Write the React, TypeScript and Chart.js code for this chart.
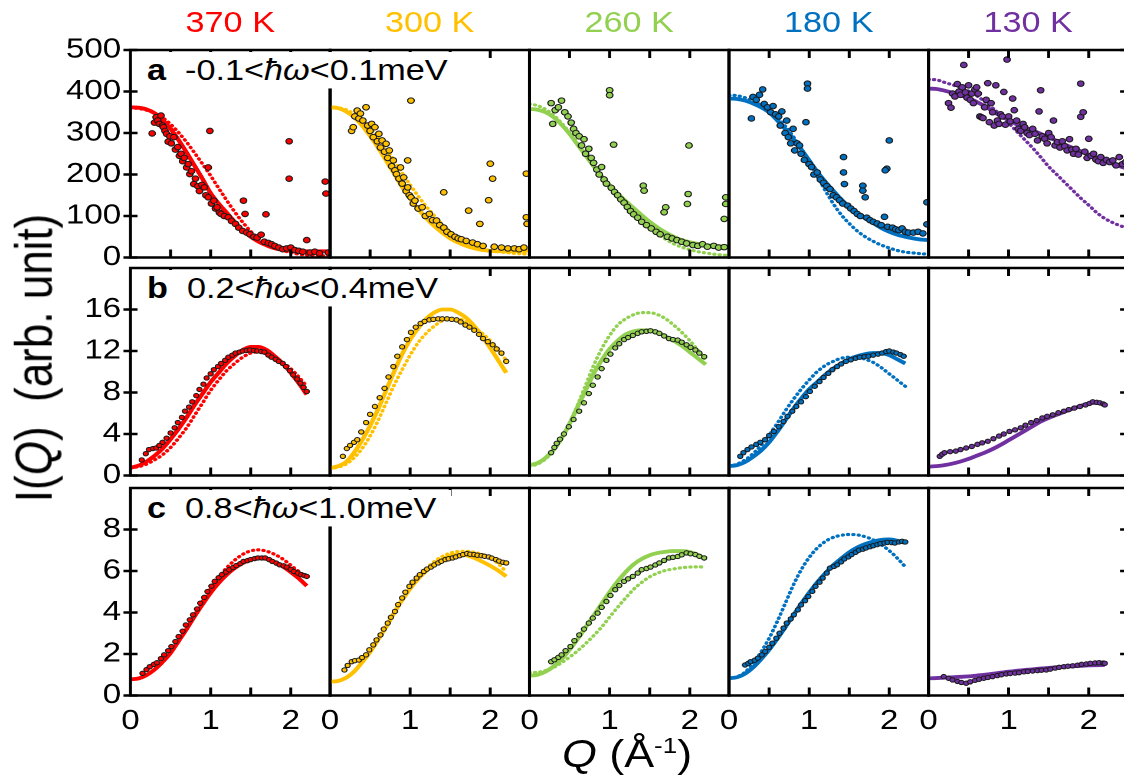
import React, { useEffect, useRef } from 'react';
import { Chart, registerables } from 'chart.js';

Chart.register(...registerables);

// ---------------- data ----------------
const TEMPS = ['370 K', '300 K', '260 K', '180 K', '130 K'];
const COLORS = ['#FF0000', '#FFC000', '#92D050', '#0070C0', '#7030A0'];
const ROW_LETTERS = ['a', 'b', 'c'];
const ROW_LOW = ['-0.1', '0.2', '0.8'];
const ROW_HIGH = ['0.1', '0.4', '1.0'];
const Y_MAX = [500, 20, 10];
const Y_STEP = [100, 4, 2];
const Y_LABEL_MAX = [500, 16, 8];
const Y_TICKS = [[0, 100, 200, 300, 400, 500], [0, 4, 8, 12, 16], [0, 2, 4, 6, 8]];
const Q_MAX = 2.49;
const Q_TICKS = [0.5, 1, 1.5, 2];
const Q_LABEL_TICKS = [0, 0.5, 1, 1.5, 2];
const Q_LABELS = [0, 1, 2];

const Q_A = [0, 0.1, 0.2, 0.3, 0.4, 0.5, 0.6, 0.7, 0.8, 0.9, 1.0, 1.1, 1.2, 1.3, 1.4, 1.5, 1.6, 1.7, 1.8, 1.9, 2.0, 2.1, 2.2, 2.3, 2.4, 2.5];
const Q_BC = [0, 0.1, 0.2, 0.3, 0.4, 0.5, 0.6, 0.7, 0.8, 0.9, 1.0, 1.1, 1.2, 1.3, 1.4, 1.5, 1.6, 1.7, 1.8, 1.9, 2.0, 2.1, 2.2];

// row a : -0.1 < hw < 0.1 meV
const A370_SOLID = [362, 361, 357, 348, 332, 310, 283, 253, 221, 189, 155, 130, 108, 86, 65, 50, 38, 29, 22, 18, 16, 15, 15, 15, 15, 15];
const A370_DOT = [360, 359, 355, 348, 337, 321, 301, 278, 252, 225, 197, 167, 138, 110, 85, 63, 46, 33, 24, 17, 12, 8, 6, 5, 4, 4];
const A300_SOLID = [362, 360, 352, 338, 318, 293, 265, 234, 202, 170, 142, 117, 95, 76, 60, 46, 36, 28, 22, 18, 16, 15, 15, 15, 16, 17];
const A300_DOT = [362, 361, 356, 346, 331, 311, 288, 262, 234, 204, 175, 148, 123, 101, 80, 62, 48, 37, 28, 21, 17, 14, 12, 10, 9, 8];
const A260_SOLID = [358, 356, 350, 338, 320, 298, 272, 246, 220, 196, 174, 154, 136, 119, 102, 86, 72, 60, 50, 42, 37, 33, 30, 28, 27, 27];
const A260_DOT = [370, 366, 357, 343, 324, 301, 275, 248, 221, 195, 170, 148, 127, 107, 89, 72, 57, 44, 33, 25, 19, 14, 11, 8, 6, 5];
const A180_SOLID = [383, 382, 378, 371, 362, 350, 331, 310, 286, 261, 234, 207, 183, 161, 140, 122, 107, 94, 83, 71, 62, 55, 50, 46, 43, 42];
const A180_DOT = [391, 390, 385, 377, 367, 355, 338, 317, 292, 262, 230, 196, 162, 130, 103, 82, 64, 50, 39, 30, 23, 17, 13, 11, 9, 8];
const A130_SOLID = [407, 406, 402, 397, 391, 384, 375, 365, 353, 341, 331, 321, 313, 306, 298, 290, 281, 272, 264, 256, 248, 240, 233, 226, 219, 213];
const A130_DOT = [429, 428, 422, 416, 410, 401, 390, 376, 360, 343, 324, 304, 284, 264, 242, 219, 200, 181, 162, 143, 126, 108, 94, 84, 76, 70];

const A370_PTS: [number, number][] = [[0.27, 299], [0.30, 325], [0.32, 338], [0.34, 330], [0.36, 322], [0.38, 342], [0.40, 318], [0.41, 314], [0.43, 305], [0.45, 298], [0.47, 279], [0.49, 292], [0.51, 275], [0.54, 290], [0.56, 260], [0.59, 266], [0.61, 245], [0.63, 250], [0.65, 232], [0.67, 240], [0.70, 217], [0.72, 225], [0.74, 201], [0.76, 208], [0.79, 177], [0.81, 190], [0.84, 172], [0.86, 160], [0.89, 175], [0.92, 169], [0.94, 150], [0.97, 145], [0.97, 217], [0.99, 305], [1.01, 130], [1.04, 137], [1.06, 118], [1.08, 121], [1.11, 108], [1.13, 105], [1.17, 100], [1.22, 97], [1.26, 88], [1.31, 81], [1.35, 72], [1.40, 64], [1.41, 137], [1.43, 105], [1.45, 60], [1.49, 56], [1.54, 50], [1.58, 48], [1.63, 55], [1.67, 38], [1.69, 104], [1.72, 35], [1.76, 32], [1.80, 28], [1.85, 24], [1.90, 20], [1.95, 22], [1.98, 280], [1.98, 190], [2.00, 24], [2.05, 18], [2.10, 16], [2.15, 14], [2.20, 42], [2.24, 12], [2.30, 14], [2.36, 10], [2.43, 183], [2.44, 154], [2.47, 12]];
const A300_PTS: [number, number][] = [[0.27, 305], [0.29, 314], [0.31, 340], [0.34, 354], [0.36, 335], [0.38, 347], [0.41, 330], [0.45, 362], [0.47, 318], [0.50, 305], [0.52, 322], [0.54, 290], [0.56, 314], [0.59, 280], [0.61, 298], [0.63, 265], [0.65, 282], [0.68, 255], [0.70, 274], [0.72, 240], [0.74, 258], [0.77, 220], [0.79, 234], [0.81, 210], [0.83, 201], [0.86, 190], [0.88, 217], [0.90, 178], [0.92, 193], [0.95, 160], [0.97, 169], [0.97, 234], [0.99, 150], [1.01, 145], [1.01, 378], [1.04, 130], [1.06, 137], [1.10, 118], [1.15, 121], [1.19, 100], [1.24, 105], [1.28, 90], [1.33, 89], [1.37, 78], [1.42, 72], [1.42, 157], [1.46, 62], [1.51, 56], [1.56, 50], [1.60, 46], [1.64, 44], [1.70, 40], [1.73, 113], [1.78, 36], [1.84, 32], [1.87, 81], [1.91, 28], [1.98, 138], [2.00, 226], [2.03, 190], [2.05, 26], [2.14, 24], [2.22, 22], [2.30, 22], [2.36, 20], [2.42, 24], [2.45, 202], [2.45, 97], [2.46, 81]];
const A260_PTS: [number, number][] = [[0.27, 372], [0.29, 322], [0.32, 355], [0.36, 362], [0.40, 378], [0.44, 350], [0.48, 340], [0.52, 325], [0.55, 310], [0.58, 300], [0.62, 292], [0.65, 270], [0.68, 285], [0.70, 250], [0.74, 262], [0.77, 240], [0.80, 228], [0.84, 212], [0.87, 200], [0.90, 218], [0.93, 188], [0.96, 178], [1.00, 403], [1.00, 391], [1.02, 168], [1.05, 272], [1.06, 158], [1.10, 150], [1.14, 140], [1.18, 132], [1.22, 122], [1.26, 112], [1.30, 104], [1.35, 96], [1.40, 86], [1.42, 173], [1.43, 161], [1.46, 78], [1.52, 70], [1.58, 62], [1.63, 56], [1.70, 121], [1.68, 109], [1.72, 50], [1.78, 46], [1.84, 42], [1.90, 38], [1.96, 34], [1.99, 270], [1.98, 153], [1.97, 129], [2.04, 30], [2.10, 28], [2.16, 32], [2.22, 26], [2.30, 28], [2.36, 24], [2.45, 145], [2.45, 129], [2.43, 93], [2.43, 25]];
const A180_PTS: [number, number][] = [[0.28, 335], [0.30, 387], [0.34, 380], [0.38, 392], [0.42, 405], [0.44, 370], [0.48, 362], [0.52, 350], [0.55, 365], [0.58, 345], [0.62, 340], [0.64, 318], [0.66, 352], [0.70, 300], [0.72, 330], [0.74, 290], [0.77, 275], [0.80, 310], [0.82, 258], [0.85, 275], [0.88, 270], [0.90, 250], [0.94, 235], [0.96, 326], [0.98, 419], [0.98, 407], [1.00, 225], [1.03, 218], [1.06, 200], [1.10, 205], [1.14, 188], [1.18, 180], [1.22, 172], [1.26, 165], [1.30, 150], [1.34, 145], [1.38, 138], [1.42, 130], [1.43, 242], [1.43, 205], [1.44, 177], [1.48, 125], [1.52, 118], [1.56, 112], [1.60, 105], [1.64, 100], [1.67, 173], [1.67, 161], [1.70, 145], [1.72, 96], [1.76, 90], [1.80, 86], [1.85, 82], [1.90, 78], [1.94, 98], [1.98, 74], [2.00, 282], [1.97, 214], [1.95, 210], [2.04, 72], [2.08, 68], [2.12, 66], [2.16, 70], [2.20, 62], [2.24, 60], [2.30, 60], [2.36, 62], [2.42, 58], [2.47, 133], [2.47, 80]];
const A130_PTS: [number, number][] = [[0.25, 372], [0.28, 361], [0.30, 395], [0.33, 388], [0.36, 418], [0.38, 400], [0.40, 392], [0.42, 410], [0.44, 464], [0.46, 398], [0.48, 385], [0.50, 415], [0.52, 380], [0.54, 395], [0.56, 372], [0.58, 405], [0.60, 410], [0.62, 395], [0.64, 340], [0.66, 338], [0.68, 336], [0.70, 362], [0.72, 380], [0.74, 420], [0.76, 326], [0.78, 372], [0.80, 350], [0.82, 318], [0.84, 415], [0.86, 330], [0.88, 322], [0.90, 345], [0.92, 340], [0.94, 399], [0.96, 320], [0.98, 477], [1.00, 340], [1.02, 328], [1.05, 383], [1.07, 355], [1.10, 330], [1.12, 310], [1.15, 305], [1.18, 322], [1.20, 314], [1.23, 300], [1.26, 295], [1.30, 310], [1.33, 298], [1.36, 282], [1.38, 352], [1.40, 403], [1.42, 292], [1.45, 286], [1.48, 275], [1.50, 300], [1.53, 290], [1.56, 330], [1.58, 270], [1.61, 278], [1.64, 265], [1.67, 280], [1.70, 268], [1.73, 258], [1.76, 285], [1.79, 260], [1.81, 250], [1.84, 262], [1.87, 248], [1.90, 419], [1.90, 339], [1.93, 350], [1.95, 255], [1.98, 240], [2.00, 286], [2.03, 245], [2.06, 250], [2.09, 236], [2.12, 232], [2.15, 242], [2.18, 228], [2.22, 235], [2.26, 230], [2.30, 234], [2.34, 222], [2.38, 242], [2.42, 225], [2.46, 230]];

// row b : 0.2 < hw < 0.4 meV
const B370_SOLID = [0.75, 0.95, 1.35, 1.9, 2.6, 3.5, 4.5, 5.6, 6.8, 7.9, 9.0, 9.9, 10.8, 11.5, 12.1, 12.4, 12.4, 12.1, 11.5, 10.8, 9.9, 8.9, 7.8];
const B370_DOT = [0.75, 0.85, 1.1, 1.5, 2.0, 2.7, 3.6, 4.6, 5.8, 7.0, 8.2, 9.2, 10.1, 10.8, 11.4, 11.8, 11.9, 11.7, 11.4, 10.9, 10.3, 9.5, 8.6];
const B300_SOLID = [0.7, 0.9, 1.3, 2.2, 3.4, 4.8, 6.4, 8.2, 10.0, 11.7, 13.1, 14.2, 15.1, 15.7, 16.0, 16.0, 15.7, 15.2, 14.4, 13.4, 12.3, 11.1, 9.9];
const B300_DOT = [0.7, 0.8, 1.1, 1.7, 2.6, 3.8, 5.3, 7.0, 8.7, 10.2, 11.6, 12.8, 13.7, 14.4, 14.9, 15.1, 15.1, 14.8, 14.3, 13.7, 13.0, 12.1, 11.1];
const B260_SOLID = [1.0, 1.2, 1.7, 2.5, 3.6, 5.0, 6.6, 8.2, 9.8, 11.1, 12.2, 13.0, 13.6, 13.9, 14.0, 14.0, 13.8, 13.4, 13.0, 12.5, 11.9, 11.3, 10.7];
const B260_DOT = [0.9, 1.1, 1.6, 2.4, 3.5, 5.0, 6.8, 8.7, 10.6, 12.2, 13.5, 14.5, 15.1, 15.5, 15.7, 15.7, 15.5, 15.1, 14.5, 13.8, 13.0, 12.1, 11.1];
const B180_SOLID = [0.9, 1.0, 1.3, 1.8, 2.4, 3.2, 4.2, 5.3, 6.4, 7.4, 8.3, 9.0, 9.7, 10.3, 10.8, 11.2, 11.5, 11.7, 11.8, 11.8, 11.6, 11.2, 10.8];
const B180_DOT = [0.9, 1.1, 1.5, 2.1, 2.9, 3.9, 5.0, 6.2, 7.3, 8.3, 9.2, 10.0, 10.6, 11.0, 11.3, 11.4, 11.4, 11.2, 10.9, 10.4, 9.8, 9.2, 8.6];
const B130_SOLID = [0.85, 0.9, 1.0, 1.15, 1.35, 1.6, 1.9, 2.2, 2.55, 2.95, 3.4, 3.85, 4.3, 4.75, 5.2, 5.55, 5.85, 6.15, 6.45, 6.7, 6.95, 7.0, 6.9];

const B370_PTS: [number, number][] = [[0.14, 1.5], [0.19, 2.1], [0.23, 2.5], [0.28, 2.6], [0.32, 2.65], [0.36, 2.9], [0.40, 3.2], [0.45, 3.6], [0.50, 4.1], [0.55, 4.6], [0.59, 5.1], [0.64, 5.6], [0.68, 6.2], [0.73, 6.6], [0.77, 7.1], [0.82, 7.7], [0.86, 8.3], [0.91, 8.8], [0.95, 9.4], [1.00, 9.8], [1.04, 10.2], [1.09, 10.5], [1.13, 10.8], [1.18, 11.1], [1.22, 11.4], [1.27, 11.6], [1.31, 11.8], [1.36, 11.9], [1.40, 12.0], [1.45, 12.05], [1.49, 12.1], [1.54, 12.05], [1.58, 12.0], [1.63, 11.95], [1.67, 11.9], [1.72, 11.6], [1.76, 11.4], [1.81, 11.2], [1.85, 11.0], [1.90, 10.8], [1.94, 10.5], [1.99, 10.1], [2.03, 9.7], [2.08, 9.3], [2.12, 8.9], [2.16, 8.5], [2.20, 8.1]];
const B300_PTS: [number, number][] = [[0.16, 1.85], [0.21, 2.6], [0.25, 2.9], [0.30, 3.2], [0.34, 3.45], [0.39, 4.2], [0.45, 5.1], [0.50, 5.9], [0.56, 6.65], [0.62, 7.5], [0.68, 8.4], [0.73, 9.5], [0.79, 10.5], [0.84, 11.5], [0.90, 12.4], [0.96, 13.1], [1.01, 13.8], [1.07, 14.3], [1.13, 14.65], [1.18, 14.85], [1.24, 15.0], [1.29, 15.05], [1.35, 15.1], [1.40, 15.1], [1.46, 15.1], [1.52, 15.05], [1.58, 15.0], [1.63, 14.8], [1.69, 14.5], [1.74, 14.3], [1.80, 14.0], [1.86, 13.6], [1.91, 13.2], [1.97, 12.9], [2.03, 12.6], [2.08, 12.2], [2.14, 11.8], [2.20, 11.0]];
const B260_PTS: [number, number][] = [[0.27, 2.2], [0.31, 2.7], [0.34, 3.1], [0.38, 3.5], [0.43, 4.0], [0.49, 4.7], [0.55, 5.4], [0.62, 6.2], [0.68, 7.0], [0.74, 7.9], [0.79, 8.7], [0.85, 9.5], [0.90, 10.3], [0.96, 11.1], [1.01, 11.7], [1.07, 12.3], [1.12, 12.7], [1.18, 13.1], [1.23, 13.3], [1.29, 13.5], [1.35, 13.7], [1.40, 13.85], [1.46, 13.9], [1.51, 13.95], [1.57, 13.85], [1.62, 13.7], [1.68, 13.45], [1.74, 13.2], [1.79, 13.1], [1.85, 13.05], [1.90, 12.85], [1.96, 12.6], [2.01, 12.35], [2.07, 12.1], [2.12, 11.8], [2.18, 11.45]];
const B180_PTS: [number, number][] = [[0.14, 1.85], [0.18, 2.2], [0.23, 2.5], [0.28, 2.75], [0.34, 3.0], [0.39, 3.2], [0.45, 3.45], [0.50, 3.85], [0.56, 4.25], [0.62, 4.7], [0.68, 5.2], [0.73, 5.7], [0.79, 6.2], [0.84, 6.65], [0.90, 7.1], [0.96, 7.6], [1.01, 8.1], [1.07, 8.6], [1.13, 9.05], [1.18, 9.45], [1.24, 9.85], [1.29, 10.2], [1.35, 10.5], [1.40, 10.75], [1.46, 11.0], [1.52, 11.15], [1.58, 11.3], [1.63, 11.4], [1.69, 11.45], [1.74, 11.5], [1.80, 11.6], [1.86, 11.7], [1.91, 11.8], [1.96, 11.95], [2.00, 12.0], [2.05, 11.9], [2.09, 11.8], [2.14, 11.65], [2.18, 11.5]];
const B130_PTS: [number, number][] = [[0.14, 1.85], [0.17, 2.05], [0.20, 2.2], [0.27, 2.3], [0.34, 2.35], [0.40, 2.5], [0.47, 2.65], [0.54, 2.8], [0.61, 3.0], [0.67, 3.15], [0.74, 3.3], [0.81, 3.55], [0.88, 3.8], [0.94, 4.0], [1.01, 4.25], [1.08, 4.4], [1.15, 4.6], [1.21, 4.85], [1.28, 5.1], [1.35, 5.3], [1.42, 5.55], [1.48, 5.7], [1.55, 5.85], [1.62, 6.05], [1.69, 6.2], [1.75, 6.35], [1.82, 6.5], [1.89, 6.65], [1.96, 6.8], [2.01, 6.95], [2.05, 7.1], [2.10, 7.05], [2.14, 7.0], [2.18, 6.9], [2.20, 6.8]];

// row c : 0.8 < hw < 1.0 meV
const C370_SOLID = [0.78, 0.82, 0.98, 1.25, 1.62, 2.05, 2.62, 3.2, 3.82, 4.4, 4.95, 5.42, 5.82, 6.14, 6.38, 6.55, 6.62, 6.58, 6.43, 6.22, 5.95, 5.64, 5.28];
const C370_DOT = [0.78, 0.82, 0.98, 1.25, 1.6, 2.05, 2.6, 3.22, 3.88, 4.55, 5.15, 5.7, 6.15, 6.52, 6.8, 6.97, 7.02, 6.95, 6.8, 6.58, 6.28, 5.98, 5.72];
const C300_SOLID = [0.67, 0.7, 0.85, 1.15, 1.6, 2.1, 2.7, 3.3, 3.98, 4.6, 5.15, 5.62, 6.0, 6.32, 6.55, 6.72, 6.79, 6.76, 6.63, 6.45, 6.25, 6.02, 5.74];
const C300_DOT = [0.67, 0.7, 0.85, 1.15, 1.58, 2.08, 2.66, 3.28, 3.95, 4.6, 5.2, 5.72, 6.12, 6.45, 6.7, 6.86, 6.94, 6.95, 6.9, 6.8, 6.65, 6.35, 5.95];
const C260_SOLID = [0.95, 1.0, 1.15, 1.4, 1.75, 2.2, 2.72, 3.28, 3.85, 4.42, 4.98, 5.5, 5.95, 6.32, 6.58, 6.76, 6.87, 6.93, 6.96, 6.96, 6.92, 6.78, 6.55];
const C260_DOT = [1.1, 1.12, 1.2, 1.35, 1.58, 1.85, 2.15, 2.5, 2.88, 3.3, 3.78, 4.25, 4.7, 5.12, 5.45, 5.72, 5.9, 6.03, 6.1, 6.16, 6.19, 6.2, 6.19];
const C180_SOLID = [0.83, 0.88, 1.05, 1.35, 1.75, 2.2, 2.72, 3.28, 3.85, 4.42, 4.95, 5.45, 5.88, 6.28, 6.6, 6.9, 7.13, 7.3, 7.42, 7.5, 7.52, 7.46, 7.35];
const C180_DOT = [0.83, 0.9, 1.12, 1.55, 2.1, 2.75, 3.55, 4.42, 5.3, 6.05, 6.65, 7.1, 7.42, 7.62, 7.72, 7.76, 7.74, 7.65, 7.5, 7.27, 6.98, 6.62, 6.2];
const C130_SOLID = [0.83, 0.84, 0.86, 0.88, 0.9, 0.92, 0.96, 1.0, 1.05, 1.1, 1.15, 1.19, 1.23, 1.26, 1.3, 1.33, 1.36, 1.39, 1.41, 1.43, 1.45, 1.46, 1.47];

const C370_PTS: [number, number][] = [[0.15, 1.07], [0.20, 1.25], [0.24, 1.39], [0.29, 1.5], [0.33, 1.58], [0.38, 1.78], [0.42, 1.96], [0.47, 2.16], [0.51, 2.36], [0.56, 2.6], [0.60, 2.84], [0.65, 3.1], [0.69, 3.4], [0.74, 3.65], [0.78, 3.89], [0.83, 4.17], [0.87, 4.45], [0.92, 4.73], [0.96, 5.01], [1.01, 5.27], [1.05, 5.5], [1.10, 5.68], [1.14, 5.82], [1.19, 5.95], [1.23, 6.06], [1.28, 6.17], [1.32, 6.26], [1.37, 6.36], [1.41, 6.46], [1.46, 6.5], [1.50, 6.55], [1.55, 6.6], [1.59, 6.63], [1.64, 6.63], [1.68, 6.63], [1.73, 6.55], [1.77, 6.46], [1.82, 6.38], [1.86, 6.3], [1.91, 6.25], [1.95, 6.19], [2.00, 6.08], [2.04, 5.98], [2.09, 5.9], [2.13, 5.82], [2.17, 5.78], [2.20, 5.74]];
const C300_PTS: [number, number][] = [[0.18, 1.23], [0.22, 1.45], [0.27, 1.63], [0.31, 1.68], [0.36, 1.71], [0.40, 1.83], [0.45, 1.96], [0.49, 2.2], [0.54, 2.44], [0.58, 2.68], [0.63, 2.92], [0.67, 3.2], [0.72, 3.49], [0.76, 3.77], [0.81, 4.05], [0.85, 4.38], [0.90, 4.7], [0.94, 4.98], [0.99, 5.26], [1.03, 5.46], [1.08, 5.66], [1.12, 5.82], [1.17, 5.98], [1.21, 6.09], [1.26, 6.19], [1.30, 6.29], [1.35, 6.39], [1.39, 6.47], [1.44, 6.55], [1.48, 6.59], [1.53, 6.63], [1.57, 6.68], [1.62, 6.74], [1.66, 6.79], [1.71, 6.84], [1.75, 6.81], [1.80, 6.79], [1.84, 6.76], [1.89, 6.74], [1.93, 6.71], [1.98, 6.68], [2.02, 6.62], [2.07, 6.55], [2.11, 6.48], [2.16, 6.42], [2.20, 6.39]];
const C260_PTS: [number, number][] = [[0.27, 1.63], [0.31, 1.72], [0.36, 1.84], [0.40, 1.96], [0.45, 2.16], [0.51, 2.36], [0.56, 2.64], [0.62, 2.92], [0.68, 3.2], [0.74, 3.49], [0.79, 3.73], [0.85, 3.97], [0.90, 4.25], [0.96, 4.53], [1.01, 4.82], [1.07, 5.1], [1.12, 5.3], [1.18, 5.5], [1.23, 5.62], [1.29, 5.74], [1.35, 5.9], [1.40, 6.06], [1.46, 6.12], [1.51, 6.19], [1.57, 6.29], [1.62, 6.39], [1.68, 6.51], [1.74, 6.63], [1.79, 6.66], [1.85, 6.7], [1.90, 6.78], [1.96, 6.87], [2.01, 6.83], [2.07, 6.79], [2.12, 6.71], [2.18, 6.63]];
const C180_PTS: [number, number][] = [[0.20, 1.47], [0.24, 1.55], [0.27, 1.63], [0.32, 1.7], [0.36, 1.8], [0.41, 1.96], [0.45, 2.12], [0.50, 2.32], [0.54, 2.52], [0.59, 2.76], [0.63, 3.0], [0.68, 3.25], [0.72, 3.49], [0.77, 3.69], [0.81, 3.89], [0.86, 4.13], [0.90, 4.37], [0.95, 4.57], [0.99, 4.77], [1.04, 5.02], [1.08, 5.26], [1.13, 5.46], [1.17, 5.66], [1.22, 5.9], [1.26, 6.14], [1.31, 6.22], [1.35, 6.3], [1.40, 6.44], [1.44, 6.58], [1.49, 6.68], [1.53, 6.79], [1.58, 6.9], [1.62, 7.0], [1.67, 7.05], [1.71, 7.11], [1.76, 7.17], [1.80, 7.22], [1.85, 7.27], [1.89, 7.32], [1.94, 7.35], [1.98, 7.38], [2.03, 7.37], [2.07, 7.35], [2.12, 7.4], [2.16, 7.43], [2.20, 7.4]];
const C130_PTS: [number, number][] = [[0.19, 0.91], [0.25, 0.83], [0.30, 0.75], [0.36, 0.68], [0.41, 0.63], [0.47, 0.59], [0.52, 0.66], [0.58, 0.73], [0.63, 0.78], [0.69, 0.83], [0.74, 0.87], [0.80, 0.91], [0.86, 0.96], [0.91, 1.0], [0.97, 1.04], [1.02, 1.06], [1.08, 1.08], [1.13, 1.1], [1.19, 1.14], [1.24, 1.16], [1.30, 1.18], [1.36, 1.2], [1.41, 1.22], [1.47, 1.23], [1.52, 1.27], [1.58, 1.32], [1.63, 1.36], [1.69, 1.39], [1.74, 1.41], [1.80, 1.43], [1.86, 1.46], [1.91, 1.5], [1.97, 1.52], [2.02, 1.55], [2.08, 1.57], [2.13, 1.58], [2.18, 1.56], [2.20, 1.55]];

const SOLID = [
  [A370_SOLID, A300_SOLID, A260_SOLID, A180_SOLID, A130_SOLID],
  [B370_SOLID, B300_SOLID, B260_SOLID, B180_SOLID, B130_SOLID],
  [C370_SOLID, C300_SOLID, C260_SOLID, C180_SOLID, C130_SOLID],
];
const DOTTED: (number[] | null)[][] = [
  [A370_DOT, A300_DOT, A260_DOT, A180_DOT, A130_DOT],
  [B370_DOT, B300_DOT, B260_DOT, B180_DOT, null],
  [C370_DOT, C300_DOT, C260_DOT, C180_DOT, null],
];
const POINTS = [
  [A370_PTS, A300_PTS, A260_PTS, A180_PTS, A130_PTS],
  [B370_PTS, B300_PTS, B260_PTS, B180_PTS, B130_PTS],
  [C370_PTS, C300_PTS, C260_PTS, C180_PTS, C130_PTS],
];

// ---------------- layout ----------------
const SX = 1.18; // the reference figure is stretched horizontally
const FONT = "'Liberation Sans', Arial, Helvetica, sans-serif";
const COL_LEFT = [130.5, 330, 529.5, 729, 928.5];
const COL_W = 199.5;
const ROW_TOP = [50, 268, 488];
const ROW_H = 207.5;
const PAD = 22;
const Y_AXIS_W = 64;
const X_AXIS_H = 46;

Chart.defaults.font.family = FONT;

function panelBox(r: number, c: number) {
  const plotL = COL_LEFT[c] / SX;
  const plotW = COL_W / SX;
  const axisW = c === 0 ? Y_AXIS_W : 0;
  const axisH = r === 2 ? X_AXIS_H : 0;
  const left = Math.floor(plotL - axisW - PAD);
  const padL = plotL - axisW - left;
  const width = Math.ceil(padL + axisW + plotW + PAD);
  const padR = width - padL - axisW - plotW;
  const top = ROW_TOP[r] - PAD;
  const height = Math.ceil(PAD + ROW_H + axisH + PAD);
  const padB = height - PAD - ROW_H - axisH;
  return { left, top, width, height, padL, padR, padB, axisW, axisH };
}

const framePlugin = {
  id: 'frame',
  afterDraw(chart: any, _args: any, opts: any) {
    const { ctx, chartArea: a, scales } = chart;
    const xs = scales.x;
    const ys = scales.y;
    ctx.save();
    ctx.strokeStyle = '#000';
    ctx.lineWidth = 2.5;
    ctx.lineCap = 'butt';
    ctx.strokeRect(a.left, a.top, a.right - a.left, a.bottom - a.top);
    ctx.beginPath();
    const tv = 8;
    for (const q of Q_TICKS) {
      const px = xs.getPixelForValue(q);
      ctx.moveTo(px, a.bottom);
      ctx.lineTo(px, a.bottom - tv);
      ctx.moveTo(px, a.top);
      ctx.lineTo(px, a.top + tv);
    }
    const th = 7 / SX;
    for (const v of opts.yTicks as number[]) {
      const py = ys.getPixelForValue(v);
      if (opts.left) {
        ctx.moveTo(a.left - th, py);
        ctx.lineTo(a.left + th, py);
      }
      if (opts.right) {
        ctx.moveTo(a.right - 8 / SX, py);
        ctx.lineTo(a.right, py);
      }
    }
    ctx.stroke();
    ctx.restore();
  },
};

function Panel({ r, c }: { r: number; c: number }) {
  const ref = useRef<HTMLCanvasElement>(null);
  const g = panelBox(r, c);
  useEffect(() => {
    const color = COLORS[c];
    const qs = r === 0 ? Q_A : Q_BC;
    const toXY = (vals: number[]) => vals.map((v, i) => ({ x: qs[i], y: v }));
    const datasets: any[] = [];
    const dotted = DOTTED[r][c];
    if (dotted) {
      datasets.push({
        type: 'line', data: toXY(dotted), borderColor: color, borderWidth: 3.2,
        borderDash: [0.5, 4], borderCapStyle: 'round', pointRadius: 0,
        cubicInterpolationMode: 'monotone', order: 3,
      });
    }
    datasets.push({
      type: 'line', data: toXY(SOLID[r][c]), borderColor: color, borderWidth: 3.8,
      pointRadius: 0, cubicInterpolationMode: 'monotone', order: 2,
    });
    datasets.push({
      type: 'scatter', data: POINTS[r][c].map(([x, y]) => ({ x, y })),
      backgroundColor: color, borderColor: '#1a1a1a', borderWidth: 1,
      pointRadius: r === 0 ? 2.8 : 2.2, order: 1,
    });
    const chart = new Chart(ref.current as HTMLCanvasElement, {
      type: 'scatter',
      data: { datasets },
      options: {
        animation: false,
        responsive: false,
        devicePixelRatio: 2,
        events: [],
        layout: { autoPadding: false, padding: { left: g.padL, right: g.padR, top: PAD, bottom: g.padB } },
        plugins: {
          legend: { display: false },
          tooltip: { enabled: false },
          frame: { yTicks: Y_TICKS[r], left: c === 0, right: c === 4 },
        } as any,
        scales: {
          x: {
            type: 'linear', min: 0, max: Q_MAX, display: r === 2,
            grid: { display: false, drawTicks: false },
            border: { display: false },
            ticks: {
              autoSkip: false, maxRotation: 0, padding: 9, color: '#000',
              font: { size: 28, family: FONT },
              callback: (v: any) => (Q_LABELS.includes(Number(v)) ? String(v) : ''),
            },
            afterBuildTicks: (s: any) => { s.ticks = Q_LABEL_TICKS.map((v) => ({ value: v })); },
            afterFit: (s: any) => { if (r === 2) s.height = g.axisH; },
          },
          y: {
            type: 'linear', min: 0, max: Y_MAX[r], display: c === 0,
            grid: { display: false, drawTicks: true, tickLength: 6 },
            border: { display: false },
            ticks: { stepSize: Y_STEP[r], padding: 2, color: '#000', font: { size: 28, family: FONT } },
            afterBuildTicks: (s: any) => { s.ticks = s.ticks.filter((t: any) => t.value <= Y_LABEL_MAX[r] + 1e-9); },
            afterFit: (s: any) => { if (c === 0) s.width = g.axisW; },
          },
        },
      } as any,
      plugins: [framePlugin],
    });
    return () => chart.destroy();
  }, [r, c]);
  return (
    <canvas
      ref={ref}
      width={g.width}
      height={g.height}
      style={{ position: 'absolute', left: g.left, top: g.top }}
    />
  );
}

export default function App() {
  useEffect(() => {
    document.documentElement.style.overflow = 'hidden';
    document.body.style.overflow = 'hidden';
  }, []);
  const panels: React.ReactNode[] = [];
  for (let r = 0; r < 3; r++) for (let c = 0; c < 5; c++) panels.push(<Panel key={`${r}-${c}`} r={r} c={c} />);
  return (
    <div
      style={{
        position: 'absolute', left: 0, top: 0, width: 1124 / SX, height: 782,
        transform: `scaleX(${SX})`, transformOrigin: '0 0', overflow: 'hidden',
        background: '#fff', fontFamily: FONT, color: '#000',
      }}
    >
      {panels}
      {TEMPS.map((t, c) => (
        <div
          key={t}
          style={{
            position: 'absolute', left: (COL_LEFT[c] + COL_W / 2) / SX, top: 8,
            transform: 'translateX(-50%)', fontSize: 29, lineHeight: '29px',
            color: COLORS[c], whiteSpace: 'nowrap',
          }}
        >
          {t}
        </div>
      ))}
      {ROW_LETTERS.map((l, r) => (
        <div
          key={l}
          style={{
            position: 'absolute', left: (COL_LEFT[0] + 2) / SX, top: ROW_TOP[r] + 2, height: 36,
            lineHeight: '36px', fontSize: 29, background: '#fff', zIndex: 2,
            paddingLeft: (147 - COL_LEFT[0] - 2) / SX, paddingRight: 12, whiteSpace: 'pre',
          }}
        >
          <b>{l}</b>{'  '}{ROW_LOW[r]}&lt;<i>ħω</i>&lt;{ROW_HIGH[r]}meV
        </div>
      ))}
      <div
        style={{
          position: 'absolute', left: 34 / SX, top: 358, transform: 'translate(-50%, -50%) rotate(-90deg)',
          fontSize: 44, lineHeight: '48px', whiteSpace: 'pre',
        }}
      >
        I(<i>Q</i>)  (arb. unit)
      </div>
      <div
        style={{
          position: 'absolute', left: 627 / SX, top: 757, transform: 'translate(-50%, -50%)',
          fontSize: 38, lineHeight: '44px', whiteSpace: 'pre',
        }}
      >
        <i>Q</i> (Å<span style={{ fontSize: 22, position: 'relative', top: -14 }}>-1</span>)
      </div>
    </div>
  );
}
